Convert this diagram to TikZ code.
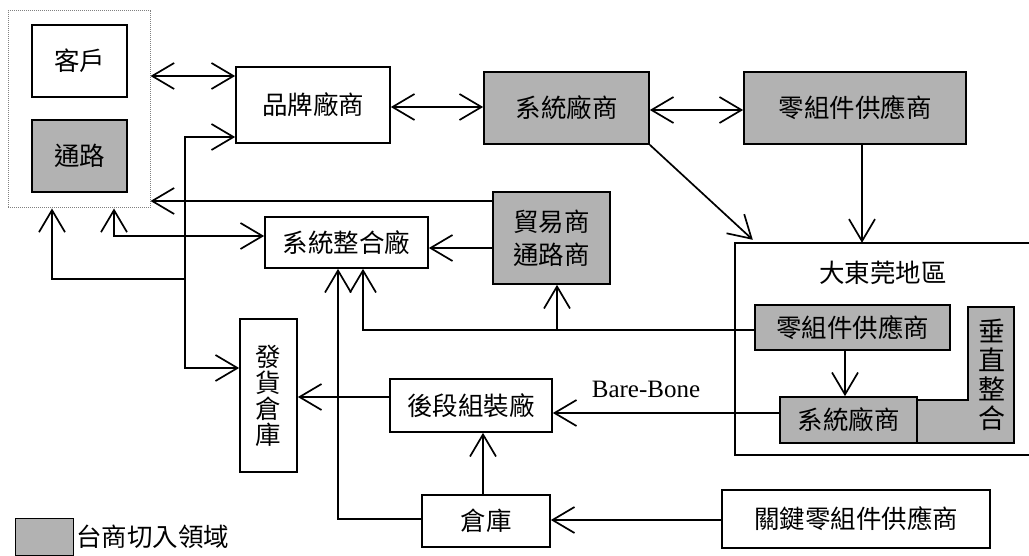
\documentclass[tikz,border=0pt]{standalone}
\usepackage{fontspec}
\setmainfont{Liberation Serif}
\newfontfamily\cjk{Noto Sans CJK TC}
\usetikzlibrary{arrows.meta}
\begin{document}
\begin{tikzpicture}[x=1pt,y=-1pt,
  box/.style={draw, line width=1.7pt, inner sep=0pt, align=center, font=\cjk\fontsize{25.5}{28}\selectfont},
  gbox/.style={box, fill=gray!60},
  lbl/.style={inner sep=0pt, font=\cjk\fontsize{25.5}{28}\selectfont},
  arr/.style={line width=1.7pt, -{Straight Barb[length=22pt,width=26pt]}},
  darr/.style={line width=1.7pt, {Straight Barb[length=22pt,width=26pt]}-{Straight Barb[length=22pt,width=26pt]}},
  ln/.style={line width=1.7pt}]
\useasboundingbox (0,0) rectangle (1029,556);

% left group
\node[draw=gray, densely dotted, line width=1pt, minimum width=142pt, minimum height=197pt] (outer) at (79,109.5) {};
\node[box, minimum width=95pt, minimum height=72pt] (kehu) at (79.5,61) {客戶};
\node[gbox, minimum width=95pt, minimum height=72pt] (tonglu) at (79.5,156) {通路};

% top row
\node[box, minimum width=154pt, minimum height=76pt] (pinpai) at (313,105) {品牌廠商};
\node[gbox, minimum width=165pt, minimum height=72pt] (xitong1) at (566.5,108) {系統廠商};
\node[gbox, minimum width=222pt, minimum height=72pt] (lingzu1) at (855,108) {零組件供應商};

% middle
\node[box, minimum width=163pt, minimum height=51pt] (zhenghe) at (346.5,242.5) {系統整合廠};
\node[gbox, minimum width=117pt, minimum height=92pt, font=\cjk\fontsize{25.5}{33}\selectfont] (maoyi) at (551.5,238) {貿易商\\通路商};

% Dongguan region
\node[minimum width=294pt, minimum height=212pt, inner sep=0pt] (dg) at (882,349) {};
\draw[ln] (dg.north east) -- (dg.north west) -- (dg.south west) -- (dg.south east);
\node[lbl] (dglabel) at (883,273) {大東莞地區};
\draw[line width=1.7pt, fill=gray!60] (917,400) -- (968,400) -- (968,307) -- (1014,307) -- (1014,443) -- (917,443) -- cycle;
\node[lbl, align=center, font=\cjk\fontsize{27}{29}\selectfont] (chuizhi) at (992,375) {垂\\直\\整\\合};
\node[gbox, minimum width=195pt, minimum height=45pt] (lingzu2) at (852.5,327.5) {零組件供應商};
\node[gbox, minimum width=137pt, minimum height=46pt] (xitong2) at (848.5,420) {系統廠商};

% lower
\node[box, minimum width=57pt, minimum height=153pt, font=\cjk\fontsize{25.5}{26}\selectfont] (fahuo) at (268.5,395.5) {發\\貨\\倉\\庫};
\node[box, minimum width=162pt, minimum height=53pt] (houduan) at (471,405.5) {後段組裝廠};
\node[box, minimum width=128pt, minimum height=52pt] (cangku) at (486,521) {倉庫};
\node[box, minimum width=268pt, minimum height=58pt] (guanjian) at (856,519) {關鍵零組件供應商};

% legend
\node[draw, line width=1pt, fill=gray!60, minimum width=58pt, minimum height=37pt] (legbox) at (44,536.5) {};
\node[lbl, anchor=west] (legtext) at (76,537) {台商切入領域};

% connectors
\coordinate (j1) at (185,279);
\draw[darr] (outer.east |- 0,76) -- (pinpai.west |- 0,76);
\draw[darr] (pinpai.east |- 0,107) -- (xitong1.west |- 0,107);
\draw[darr] (xitong1.east |- 0,110) -- (lingzu1.west |- 0,110);
\draw[arr] (862,0 |- lingzu1.south) -- (862,0 |- dg.north);
\draw[arr] (xitong1.south east) -- ([xshift=18pt,yshift=3pt]dg.north west);
\draw[arr] (maoyi.west |- 0,248) -- (zhenghe.east |- 0,248);
\draw[arr] (maoyi.west |- 0,201) -- (outer.east |- 0,201);
\draw[arr] (j1) -| (52,0 |- outer.south);
\draw[arr] (j1) |- (pinpai.west |- 0,137);
\draw[arr] (j1) |- (fahuo.west |- 0,368);
\draw[darr] (114,0 |- outer.south) |- (zhenghe.west |- 0,236);
\draw[arr] (lingzu2.west |- 0,330) -| (363,0 |- zhenghe.south);
\draw[arr] (557,330) -- (557,0 |- maoyi.south);
\draw[arr] (lingzu2.south -| 845,0) -- (xitong2.north -| 845,0);
\draw[arr] (xitong2.west |- 0,413) -- (houduan.east |- 0,413);
\node[inner sep=0pt, font=\fontsize{25}{28}\selectfont] (bb) at (646,389) {Bare-Bone};
\draw[arr] (houduan.west |- 0,397) -- (fahuo.east |- 0,397);
\draw[arr] (cangku.north -| 483,0) -- (houduan.south -| 483,0);
\draw[arr] (guanjian.west |- 0,520) -- (cangku.east |- 0,520);
\draw[arr] (cangku.west |- 0,519) -| (338,0 |- zhenghe.south);
\end{tikzpicture}
\end{document}
